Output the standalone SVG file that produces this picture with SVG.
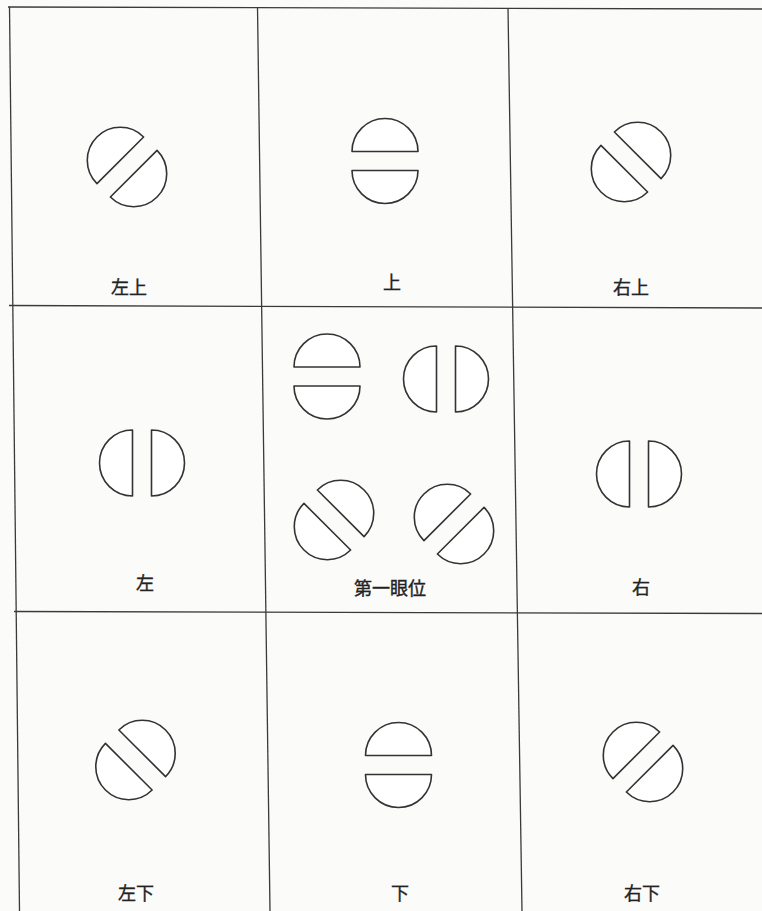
<svg xmlns="http://www.w3.org/2000/svg" width="762" height="911" viewBox="0 0 762 911">
<style>
.grid{stroke:#3a3a3a;stroke-width:1.3;fill:none}
.eye{fill:#ffffff;stroke:#333;stroke-width:1.6;stroke-linejoin:round}
.lbl{font-family:"Noto Sans CJK JP","Noto Sans CJK SC",sans-serif;font-size:18px;fill:#222;stroke:#222;stroke-width:0.35;text-anchor:middle}
</style>
<defs>
<g id="split">
<path class="eye" d="M -33,-9.5 A 33 33 0 0 1 33,-9.5 Z"/>
<path class="eye" d="M -33,9.5 A 33 33 0 0 0 33,9.5 Z"/>
</g>
</defs>
<rect width="762" height="911" fill="#fbfbfa"/>
<g id="grid">
<line class="grid" x1="8" y1="7" x2="762" y2="9"/>
<line class="grid" x1="9" y1="305.5" x2="762" y2="308"/>
<line class="grid" x1="14" y1="611.5" x2="762" y2="613.5"/>
<line class="grid" x1="9.5" y1="7" x2="19.5" y2="911"/>
<line class="grid" x1="257.5" y1="7" x2="270" y2="911"/>
<line class="grid" x1="508" y1="8" x2="522" y2="911"/>
</g>
<g id="connectors"/>
<g id="cell-upper-left">
<use href="#split" transform="translate(127,167) rotate(-45)"/>
<text class="lbl" x="129" y="294">左上</text>
</g>
<g id="cell-up">
<use href="#split" transform="translate(385,161)"/>
<text class="lbl" x="392" y="289">上</text>
</g>
<g id="cell-upper-right">
<use href="#split" transform="translate(631,162) rotate(45)"/>
<text class="lbl" x="631" y="294">右上</text>
</g>
<g id="cell-left">
<use href="#split" transform="translate(142,463) rotate(90)"/>
<text class="lbl" x="145" y="590">左</text>
</g>
<g id="cell-primary">
<use href="#split" transform="translate(327,376.5)"/>
<use href="#split" transform="translate(446,379) rotate(90)"/>
<use href="#split" transform="translate(334,520) rotate(45)"/>
<use href="#split" transform="translate(454,524) rotate(-45)"/>
<text class="lbl" x="390" y="595">第一眼位</text>
</g>
<g id="cell-right">
<use href="#split" transform="translate(639,474) rotate(90)"/>
<text class="lbl" x="641" y="594">右</text>
</g>
<g id="cell-lower-left">
<use href="#split" transform="translate(135.5,760) rotate(45)"/>
<text class="lbl" x="136" y="900">左下</text>
</g>
<g id="cell-down">
<use href="#split" transform="translate(398.5,765)"/>
<text class="lbl" x="400" y="900">下</text>
</g>
<g id="cell-lower-right">
<use href="#split" transform="translate(643,762) rotate(-45)"/>
<text class="lbl" x="642" y="900">右下</text>
</g>
</svg>
